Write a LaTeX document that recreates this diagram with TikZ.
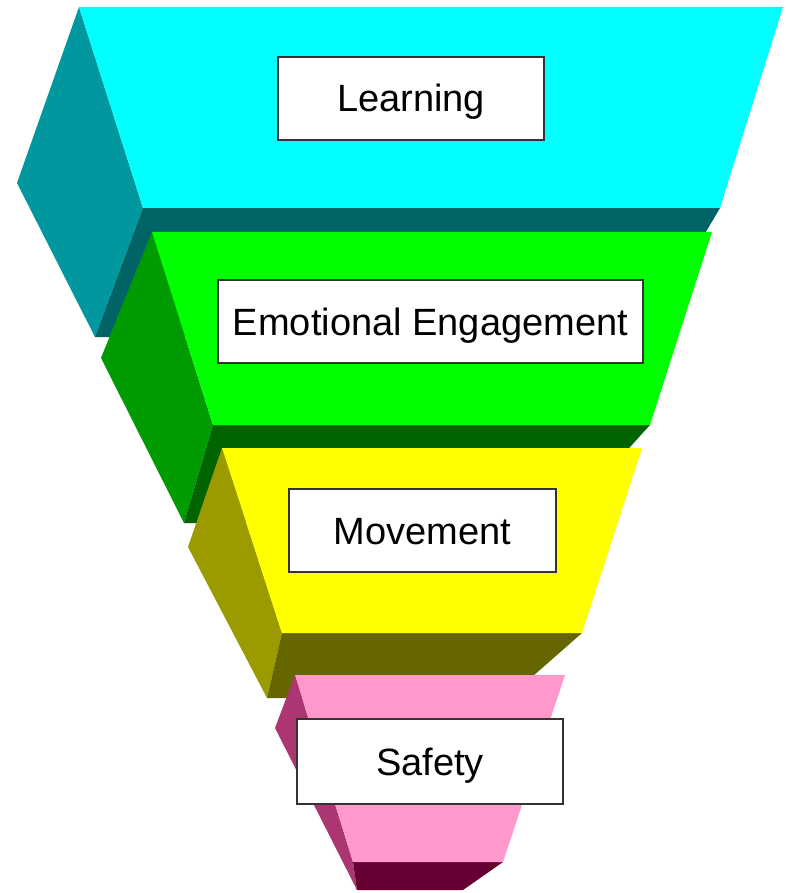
\documentclass[tikz,border=0pt]{standalone}
\usepackage{fontspec}
\setmainfont{Liberation Sans}
\definecolor{cyanF}{RGB}{0,255,255}
\definecolor{cyanS}{RGB}{0,152,158}
\definecolor{cyanB}{RGB}{0,100,102}
\definecolor{greenF}{RGB}{0,255,0}
\definecolor{greenS}{RGB}{0,155,0}
\definecolor{greenB}{RGB}{0,100,0}
\definecolor{yelF}{RGB}{255,255,0}
\definecolor{yelS}{RGB}{155,155,0}
\definecolor{yelB}{RGB}{102,102,0}
\definecolor{pinkF}{RGB}{255,153,204}
\definecolor{pinkS}{RGB}{172,54,114}
\definecolor{pinkB}{RGB}{102,0,51}
\tikzset{
  face/.style={fill=#1, draw=none},
  labelbox/.style={draw=black!80, line width=1.4pt, fill=white,
    font=\fontsize{38}{38}\selectfont, text height=27pt, text depth=0pt,
    inner sep=0pt, minimum height=83pt}
}
\begin{document}
\begin{tikzpicture}[x=1pt,y=-1pt]
\useasboundingbox (0,0) rectangle (786,893);
\fill[white] (0,0) rectangle (786,893);
% Learning layer (cyan)
\fill[face=cyanS] (79,7) -- (17,183) -- (95,337) -- (143,208) -- cycle;
\fill[face=cyanB] (143,208) -- (720,208) -- (644,337) -- (95,337) -- cycle;
\fill[face=cyanF] (79,7) -- (783,7) -- (720,208) -- (143,208) -- cycle;
% Emotional Engagement layer (green)
\fill[face=greenS] (152,232) -- (101,358) -- (184,523) -- (213,425) -- cycle;
\fill[face=greenB] (213,425) -- (650,425) -- (561,523) -- (184,523) -- cycle;
\fill[face=greenF] (152,232) -- (712,232) -- (650,425) -- (213,425) -- cycle;
% Movement layer (yellow)
\fill[face=yelS] (222,448) -- (188,547) -- (267,698) -- (282,633) -- cycle;
\fill[face=yelB] (282,633) -- (582,633) -- (508,698) -- (267,698) -- cycle;
\fill[face=yelF] (222,448) -- (642,448) -- (582,633) -- (282,633) -- cycle;
% Safety layer (pink)
\fill[face=pinkS] (295,675) -- (275,728) -- (357,890) -- (353,862) -- cycle;
\fill[face=pinkB] (353,862) -- (503,862) -- (463,890) -- (357,890) -- cycle;
\fill[face=pinkF] (295,675) -- (565,675) -- (503,862) -- (353,862) -- cycle;
% labels
\node[labelbox, minimum width=266pt] (learning) at (411,98.5) {Learning};
\node[labelbox, minimum width=425pt] (emotional) at (430.5,321.5) {Emotional Engagement};
\node[labelbox, minimum width=267pt] (movement) at (422.5,530.5) {Movement};
\node[labelbox, minimum width=266pt, minimum height=85pt] (safety) at (430,761.5) {Safety};
\end{tikzpicture}
\end{document}
